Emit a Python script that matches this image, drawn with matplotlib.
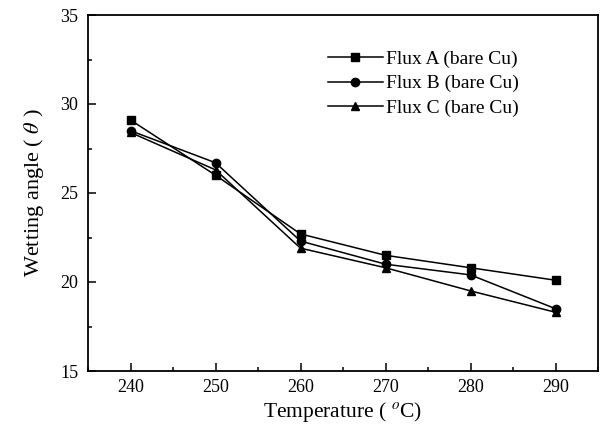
import numpy as np
import matplotlib
matplotlib.use('Agg')
import matplotlib.pyplot as plt
from matplotlib.ticker import MultipleLocator

# Data
temps = [240, 250, 260, 270, 280, 290]
flux_a = [29.1, 26.0, 22.7, 21.5, 20.8, 20.1]
flux_b = [28.5, 26.7, 22.3, 21.0, 20.4, 18.5]
flux_c = [28.4, 26.3, 21.9, 20.8, 19.5, 18.3]
labels = ['Flux A (bare Cu)', 'Flux B (bare Cu)', 'Flux C (bare Cu)']
markers = ['s', 'o', '^']

plt.rcParams['font.family'] = ['Liberation Serif', 'DejaVu Serif']
plt.rcParams['mathtext.fontset'] = 'stix'

fig = plt.figure(figsize=(6.04, 4.28), dpi=100)
ax = fig.add_axes([88 / 604, 1 - 371 / 428, 510 / 604, 356 / 428])

for ys, m, lab in zip([flux_a, flux_b, flux_c], markers, labels):
    ax.plot(temps, ys, color='black', linewidth=1.1, marker=m, markersize=6, label=lab)

ax.set_xlim(235, 295)
ax.set_ylim(15, 35)
ax.xaxis.set_major_locator(MultipleLocator(10))
ax.xaxis.set_minor_locator(MultipleLocator(5))
ax.yaxis.set_major_locator(MultipleLocator(5))
ax.yaxis.set_minor_locator(MultipleLocator(2.5))
ax.tick_params(which='both', direction='in', labelsize=13, width=1.1, pad=7)
ax.tick_params(axis='x', pad=6)
ax.tick_params(which='major', length=6)
ax.tick_params(which='minor', length=3)
for s in ax.spines.values():
    s.set_linewidth(1.3)

ax.set_xlabel('Temperature ( $^{o}$C)', fontsize=15.5, labelpad=3)
ax.set_ylabel(r'Wetting angle ( $\mathit{\theta}$ )', fontsize=16, labelpad=10)

ax.legend(loc='upper right', bbox_to_anchor=(0.88, 0.95), frameon=False, fontsize=14,
          handlelength=2.8, handletextpad=0.2, labelspacing=0.35)

plt.savefig('out.png', dpi=100)
